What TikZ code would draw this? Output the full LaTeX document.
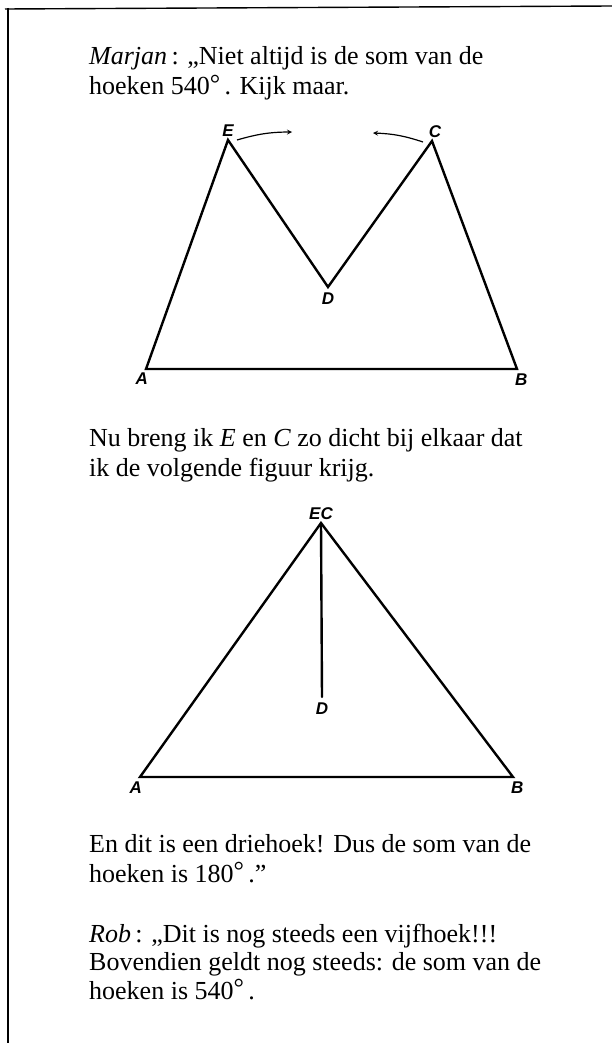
\documentclass[tikz,border=0pt]{standalone}
\usepackage{fontspec}
\setmainfont{Liberation Serif}
\newfontfamily\labelfont{Liberation Sans}
\usetikzlibrary{calc,positioning}

\newcommand\grd{\smash{\raisebox{0.08em}{°}}}

\tikzset{
  vlabel/.style={font=\labelfont\bfseries\itshape\fontsize{17}{17}\selectfont, inner sep=0pt},
  txtline/.style={anchor=base west, inner sep=0pt, font=\fontsize{26}{30}\selectfont},
  side/.style={line width=2.4pt, line join=miter, line cap=round},
  frameline/.style={line width=1.4pt},
}

\begin{document}
\begin{tikzpicture}[x=1pt,y=-1pt]
    \useasboundingbox (0,0) rectangle (612,1043);
    \coordinate (fa) at (5,9);
    \coordinate (fb) at (612,6);
    \coordinate (fc) at (8,8);
    \coordinate (fd) at (8,1043);
    \draw[frameline] (fa) -- (fb);
    \draw[frameline] (fc) -- (fd);

    \node[txtline] (t1) at (89,65) {\textit{Marjan}\,: „Niet altijd is de som van de};
    \node[txtline] (t2) at (89,95) {hoeken 540\grd\,. Kijk maar.};

    \coordinate (E) at (228,140);
    \coordinate (C) at (432,141);
    \coordinate (D) at (328,287);
    \coordinate (A) at (146,369);
    \coordinate (B) at (517,369);
    \draw[side] (A) -- (E) -- (D) -- (C) -- (B) -- cycle;
    \node[vlabel, above=3pt of E] (lE) {E};
    \node[vlabel, above=3pt of C, xshift=3pt] (lC) {C};
    \node[vlabel, below=6pt of D] (lD) {D};
    \node[vlabel, below left=4pt and -2pt of A] (lA) {A};
    \node[vlabel, below right=5pt and -2pt of B] (lB) {B};

    \coordinate (e1) at (237,140);
    \coordinate (e2) at (292,132);
    \coordinate (c1) at (423,142);
    \coordinate (c2) at (373,133);
    \draw[line width=1.2pt,->,>=stealth] (e1) to[bend left=8] (e2);
    \draw[line width=1.2pt,->,>=stealth] (c1) to[bend right=8] (c2);

    \node[txtline] (t3) at (89,446) {Nu breng ik \textit{E} en \textit{C} zo dicht bij elkaar dat};
    \node[txtline] (t4) at (89,476) {ik de volgende figuur krijg.};

    \coordinate (EC) at (321,523);
    \coordinate (D2) at (322,697);
    \coordinate (A2) at (140,777);
    \coordinate (B2) at (513,777);
    \draw[side] (A2) -- (EC) -- (B2) -- cycle;
    \draw[side] (EC) -- (D2);
    \node[vlabel, above=3pt of EC] (lEC) {EC};
    \node[vlabel, below=6pt of D2] (lD2) {D};
    \node[vlabel, below left=5pt and -2pt of A2] (lA2) {A};
    \node[vlabel, below right=5pt and -2pt of B2] (lB2) {B};

    \node[txtline] (t5) at (89,852) {En dit is een driehoek! Dus de som van de};
    \node[txtline] (t6) at (89,882) {hoeken is 180\grd\,.”};

    \node[txtline] (t7) at (89,942) {\textit{Rob}\,: „Dit is nog steeds een vijfhoek!!!};
    \node[txtline] (t8) at (89,970) {Bovendien geldt nog steeds: de som van de};
    \node[txtline] (t9) at (89,999) {hoeken is 540\grd\,.};
\end{tikzpicture}
\end{document}
